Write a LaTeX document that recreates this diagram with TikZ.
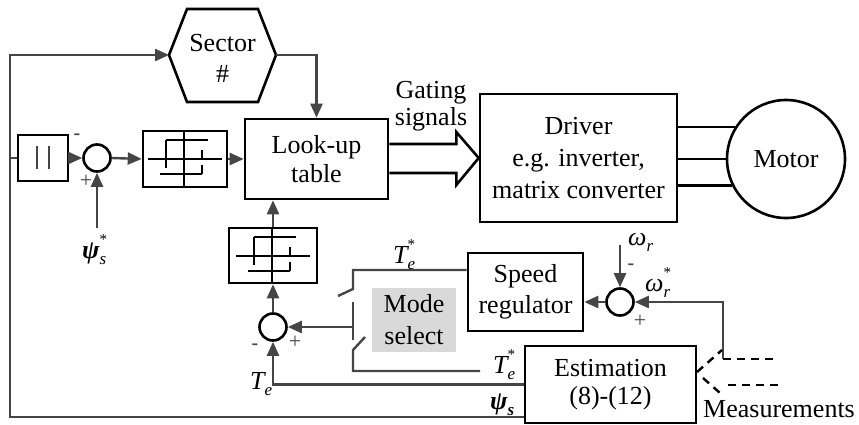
\documentclass[tikz,border=0pt]{standalone}
\usepackage{fontspec}
\setmainfont{Liberation Serif}
\usetikzlibrary{arrows.meta,calc}
\definecolor{ln}{HTML}{454545}
\definecolor{modegray}{HTML}{D9D9D9}
% symbol with raised star and lowered subscript, stacked
\newcommand\symss[2]{{#1}\makebox[0pt][l]{\raisebox{14pt}{\fontsize{15}{15}\selectfont\upshape\mdseries *}}\raisebox{-6pt}{\fontsize{17}{17}\selectfont #2}}
\newcommand\syms[2]{{#1}\raisebox{-6pt}{\fontsize{17}{17}\selectfont #2}}
\begin{document}
\begin{tikzpicture}[x=1pt,y=-1pt,
  font=\fontsize{26}{29}\selectfont,
  box/.style={draw=black,line width=2.6pt,inner sep=0pt,align=center},
  sumc/.style={circle,draw=black,line width=2.6pt,minimum size=27pt,inner sep=0pt},
  wire/.style={draw=ln,line width=2.4pt},
  sig/.style={wire,-{Triangle[length=14pt,width=12pt]}},
  meas/.style={draw=black,line width=2.4pt,dash pattern=on 8pt off 6pt},
  lbl/.style={inner sep=0pt},
  sgn/.style={inner sep=0pt,text=ln,font=\fontsize{22}{22}\selectfont},
  minus/.style={inner sep=0pt,text=ln,font=\fontsize{20}{20}\selectfont\bfseries},
  glyph/.style={draw=black,line width=2pt},
]
\useasboundingbox (0,0) rectangle (859,425);

% ---- blocks ----
\node[box,minimum width=50pt,minimum height=46pt] (abs) at (43,158) {};
\draw[ln,line width=2pt] (37,146) -- (37,169) (49,146) -- (49,169);
\node[sumc] (s1) at (97,158) {};
\node[box,minimum width=84pt,minimum height=56pt] (h1) at (185,159) {};
\node[box,minimum width=143pt,minimum height=80pt] (lut) at (316.5,159) {Look-up\\table};
\draw[black,line width=2.6pt,line join=miter] (169,55) coordinate (secL) -- (187,9) -- (258,9) -- (276,55) coordinate (secR) -- (258,102) -- (187,102) -- cycle;
\node[lbl,align=center,font=\fontsize{26}{31}\selectfont] (sec) at (222.5,58) {Sector\\\#};
\node[box,minimum width=197pt,minimum height=128pt,font=\fontsize{26}{32}\selectfont] (drv) at (578.5,158) {Driver\\e.g. inverter,\\matrix converter};
\node[circle,draw=black,line width=2.6pt,minimum size=118pt,inner sep=0pt] (mot) at (786,159) {Motor};
\node[box,minimum width=88pt,minimum height=55pt] (h2) at (273,255.5) {};
\node[sumc] (s2) at (273,327) {};
\node[fill=modegray,minimum width=84pt,minimum height=64pt,inner sep=0pt,align=center,font=\fontsize{26}{32}\selectfont] (mode) at (414,320) {Mode\\select};
\node[box,minimum width=115pt,minimum height=78pt,font=\fontsize{26}{31}\selectfont] (spd) at (525.5,292) {Speed\\regulator};
\node[sumc] (s3) at (620,302) {};
\node[box,minimum width=171pt,minimum height=77pt,font=\fontsize{26}{28}\selectfont] (est) at (610.5,384.5) {Estimation\\(8)-(12)};

% ---- hysteresis glyphs ----
\foreach \c in {h1,h2}{
  \begin{scope}[shift={(\c.center)}]
    \draw[glyph] (-37,0) -- (37,0);
    \draw[glyph] (-1,-27) -- (-1,27);
    \draw[glyph] (-19,-19) -- (23,-19);
    \draw[glyph] (-25,15) -- (17,15);
    \draw[glyph] (-19,-19) -- (-19,9);
    \draw[glyph] (17,-9) -- (17,-1);
    \draw[glyph] (17,6) -- (17,15);
  \end{scope}
}

% ---- connectors ----
\coordinate (fbB) at (10,417);
\coordinate (fbT) at (10,55);
\draw[sig] (est.west |- fbB) -- (fbB) -- (fbT) -- (secL);
\draw[wire] (fbB |- abs.west) -- (abs.west);
\draw[sig] (abs.east) -- (s1.west);
\coordinate (psin) at (97,228);
\draw[sig] (psin) -- (s1.south);
\draw[sig] (s1.east) -- (h1.west);
\draw[sig] (h1.east) -- (lut.west);
\draw[sig] (secR) -- (secR -| lut.north) -- (lut.north);
% hollow arrow
\draw[black,line width=2.6pt,line join=miter]
  ($(lut.east)+(0,-15)$) -- ($(lut.east)+(67,-15)$) -- ($(lut.east)+(67,-27)$) -- (drv.west)
  -- ($(lut.east)+(67,26)$) -- ($(lut.east)+(67,14)$) -- ($(lut.east)+(0,14)$);
\foreach \a in {148,180,206} \draw[black,line width=2.6pt] (mot.\a) -- (mot.\a -| drv.east);
\draw[sig] (h2.north) -- (h2.north |- lut.south);
\draw[sig] (s2.north) -- (h2.south);
\draw[sig] (est.west) -- (est.west -| s2) -- (s2.south);
% switch
\coordinate (swU) at (353,270);
\draw[wire] (spd.west |- swU) -- (swU) -- (353,289) -- (338,296);
\draw[wire] (353,302) -- (353,340);
\coordinate (swC) at (353,327);
\draw[sig] (swC) -- (s2.east);
\coordinate (swL) at (353,371);
\coordinate (swE) at (480,371);
\draw[wire] (365,337) -- (353,350) -- (swL) -- (swE);
\draw[sig] (s3.west) -- (s3.west -| spd.east);
\coordinate (wrin) at (620,245);
\draw[sig] (wrin) -- (s3.north);
\coordinate (mA) at (723,359);
\draw[sig] (mA) -- (mA |- s3) -- (s3.east);
\draw[meas] (mA) -- (778,359);
\draw[meas] (728,385) -- (778,385);
\coordinate (mT) at (697,372);
\draw[meas] (mT) -- (722,350);
\draw[meas] (703,378) -- (720,393);

% ---- labels ----
\node[lbl,align=center,font=\fontsize{26}{27}\selectfont] (gate) at (431,106) {Gating\\signals};
\node[minus] at (77,137) {-};
\node[sgn] at (86,181) {+};
\node[lbl,anchor=base west] (psiref) at (82,258) {\symss{\bfseries\itshape ψ}{\itshape s}};
\node[lbl,anchor=base west] (te1) at (393,263) {\symss{\itshape T}{\itshape e}};
\node[lbl,anchor=base west] (te2) at (493,373) {\symss{\itshape T}{\itshape e}};
\node[lbl,anchor=base west] (te) at (250,389) {\syms{\itshape T}{\itshape e}};
\node[lbl,anchor=base west] (psis) at (490,409) {\syms{\bfseries\itshape ψ}{\bfseries\itshape s}};
\node[minus] at (255,347) {-};
\node[sgn] at (295,342) {+};
\node[lbl,anchor=base west] (wr) at (628,245) {\syms{\itshape ω}{\itshape r}};
\node[minus] at (631,267) {-};
\node[lbl,anchor=base west] (wrs) at (645,291) {\symss{\itshape ω}{\itshape r}};
\node[sgn] at (640,321) {+};
\node[lbl,anchor=base west] (meas) at (703,417) {Measurements};
\end{tikzpicture}
\end{document}
